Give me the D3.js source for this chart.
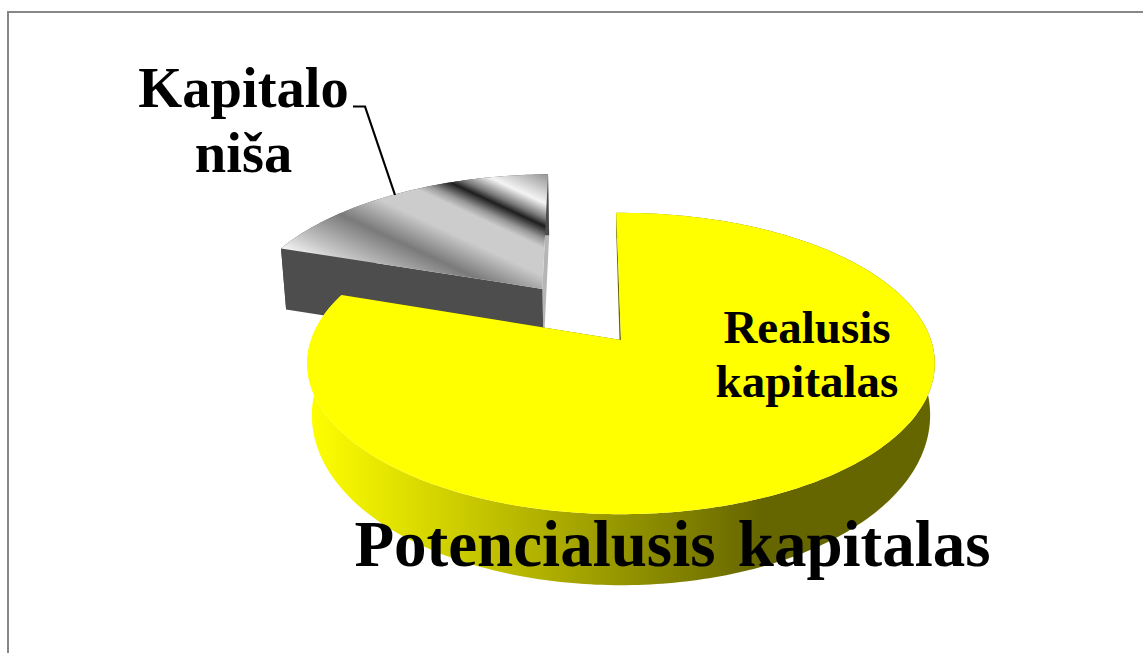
<!DOCTYPE html>
<html lang="en">
<head>
    <meta charset="UTF-8">
    <script src="https://d3js.org/d3.v7.min.js"></script>
    <title>Kapitalas</title>
    <style>
        html, body { margin: 0; padding: 0; background: #fff; overflow: hidden; }
        svg { display: block; }
        text { font-family: "Liberation Serif", serif; font-weight: bold; fill: #000; }
    </style>
</head>
<body>
    <div id="viz"></div>
    <script>
        // slices, clockwise from the top
        const categories = ["Realusis kapitalas", "Kapitalo niša"]
        const shares = [80.5, 19.5]
        const explode = [0, 0.455]

        const fullWidth = 1143
        const fullHeight = 653

        // fake 3d: unit disk pushed through a perspective, tilted towards the viewer
        const cx = 621, cy = 340
        const rx = 310, ry = 147
        const persp = 0.156
        const bottomShrink = 0.985
        // thickness of each slice in px: base + tilt * v
        const depthBase = [48, 61]
        const depthTilt = [23, 0]

        const svg = d3.select("#viz").append("svg")
            .attr("width", fullWidth)
            .attr("height", fullHeight)

        const defs = svg.append("defs")

        const sideGrad = defs.append("linearGradient")
            .attr("id", "yellowSide")
            .attr("gradientUnits", "userSpaceOnUse")
            .attr("x1", 310).attr("x2", 760).attr("y1", 0).attr("y2", 0)
        sideGrad.append("stop").attr("offset", 0).attr("stop-color", "#ffff00")
        sideGrad.append("stop").attr("offset", 1).attr("stop-color", "#666600")

        // metal look of the grey slice, bands run across s = .42x - .9y
        const metalStops = [
            [-110, "#ffffff"], [-85, "#c4c4c4"], [-50, "#7a7a7a"], [-20, "#cccccc"], [5, "#cccccc"],
            [13, "#999999"], [25, "#1e1e1e"], [32, "#777777"], [46, "#f4f4f4"], [72, "#999999"]
        ]
        const sScale = d3.scaleLinear().domain([-110, 72]).range([0, 1])
        // normal is not unit length, divide by n^2 so s stays in px along it
        const n2 = 0.42 * 0.42 + 0.9 * 0.9
        const metal = defs.append("linearGradient")
            .attr("id", "metal")
            .attr("gradientUnits", "userSpaceOnUse")
            .attr("x1", 0.42 * -110 / n2).attr("y1", -0.9 * -110 / n2)
            .attr("x2", 0.42 * 72 / n2).attr("y2", -0.9 * 72 / n2)
        metal.selectAll("stop").data(metalStops).enter().append("stop")
            .attr("offset", d => sScale(d[0]))
            .attr("stop-color", d => d[1])

        const startAngle = -1 * Math.PI / 180
        const pie = d3.pie().sort(null).startAngle(startAngle).endAngle(startAngle + 2 * Math.PI)
        const arcs = pie(shares)

        const top3d = (u, v) => {
            const w = 1 - persp * v
            return [cx + rx * u / w, cy + ry * v / w]
        }
        const bottom3d = (i, u, v) => {
            const p = top3d(u, v)
            return [cx + (p[0] - cx) * bottomShrink, p[1] + depthBase[i] + depthTilt[i] * v]
        }

        const line = d3.line().curve(d3.curveLinear)

        const rimAngles = (a) => {
            const steps = Math.ceil((a.endAngle - a.startAngle) * 60)
            return d3.range(steps + 1).map(j => a.startAngle + (a.endAngle - a.startAngle) * j / steps)
        }

        function drawSlice(a, i, topFill, sideFill, edgeFill) {
            const mid = (a.startAngle + a.endAngle) / 2
            const ox = explode[i] * Math.sin(mid)
            const oy = -explode[i] * Math.cos(mid)
            const disk = rimAngles(a).map(t => [ox + Math.sin(t), oy - Math.cos(t)])
            const centre = [ox, oy]
            const first = disk[0], last = disk[disk.length - 1]
            const g = svg.append("g")

            // radial walls
            const wall = (p) => line([top3d(...centre), top3d(...p), bottom3d(i, ...p), bottom3d(i, ...centre)]) + "Z"
            g.append("path").attr("d", wall(last)).attr("fill", edgeFill[1])
            g.append("path").attr("d", wall(first)).attr("fill", edgeFill[0])

            // outer wall
            const rim = disk.map(p => top3d(...p)).concat(disk.slice().reverse().map(p => bottom3d(i, ...p)))
            g.append("path").attr("d", line(rim) + "Z").attr("fill", sideFill)

            // top face
            const face = [top3d(...centre)].concat(disk.map(p => top3d(...p)))
            g.append("path").attr("d", line(face) + "Z").attr("fill", topFill)
        }

        // frame, open to the right and bottom
        svg.append("path")
            .attr("d", line([[8, fullHeight], [8, 12], [fullWidth, 12]]))
            .attr("fill", "none")
            .attr("stroke", "#878787")
            .attr("stroke-width", 2)

        drawSlice(arcs[1], 1, "url(#metal)", "#4d4d4d", ["#4d4d4d", "#b5b5b5"])
        drawSlice(arcs[0], 0, "#ffff00", "url(#yellowSide)", ["#666600", "#666600"])

        // leader line
        svg.append("path")
            .attr("d", line([[353, 106.5], [365, 106.5], [395, 195]]))
            .attr("fill", "none")
            .attr("stroke", "#000")
            .attr("stroke-width", 2.2)

        const addLabel = (lines, x, y, size, lineGap) => {
            const t = svg.append("text")
                .attr("text-anchor", "middle")
                .attr("font-size", size)
            lines.forEach((s, i) => t.append("tspan").attr("x", x).attr("y", y + i * lineGap).text(s))
            return t
        }

        addLabel(["Kapitalo", "niša"], 243.5, 107, 56.5, 65)
        addLabel(["Realusis", "kapitalas"], 807, 343, 47, 54)
        addLabel(["Potencialusis kapitalas"], 672.5, 566, 65, 0).attr("word-spacing", 6)
    </script>
</body>
</html>
